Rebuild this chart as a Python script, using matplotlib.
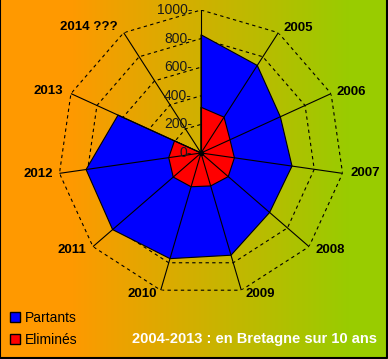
import numpy as np
import matplotlib.pyplot as plt
from matplotlib.patches import Patch

plt.rcParams["font.family"] = ["Liberation Sans", "DejaVu Sans"]

years = ["", "2005", "2006", "2007", "2008", "2009", "2010", "2011", "2012", "2013", "2014 ???"]
partants = [827, 728, 610, 643, 635, 745, 770, 818, 812, 638, 0]
elimines = [320, 298, 223, 236, 252, 240, 246, 257, 228, 204, 0]
rticks = [0, 200, 400, 600, 800, 1000]

# label offsets (pixels) and alignment, one per year
label_dx = [0, 5, 5, 8, 6, 4, -4, -7, -6, -8, -6]
label_dy = [0, 5, 2, 0, -3, -4, -4, -3, -1, 3, 6]
label_ha = ["center", "left", "left", "left", "left", "left", "right", "right", "right", "right", "right"]


def closed(vals):
    return list(vals) + [vals[0]]


def main():
    fig = plt.figure(figsize=(3.88, 3.59), dpi=100)

    # background gradient orange -> green
    bg = fig.add_axes([0, 0, 1, 1])
    x = np.linspace(0, 1, 388)
    t = np.clip((x - 0.18) / (0.72), 0, 1)
    left = np.array([255, 153, 0]) / 255
    right = np.array([153, 204, 0]) / 255
    grad = left[None, :] * (1 - t[:, None]) + right[None, :] * t[:, None]
    bg.imshow(grad[None, :, :], aspect="auto", extent=[0, 1, 0, 1])
    bg.set_xlim(0, 1)
    bg.set_ylim(0, 1)
    bg.axis("off")
    bg.plot([0.001, 0.001, 0.997, 0.997], [1, 0.002, 0.002, 1], color="black", lw=1.5, clip_on=False)

    ax = fig.add_axes([58 / 388, 63 / 359, 286 / 388, 286 / 359], projection="polar")
    ax.patch.set_visible(False)
    ax.set_theta_zero_location("N")
    ax.set_theta_direction(-1)
    ax.set_ylim(0, 1000)
    ax.grid(False)
    ax.spines["polar"].set_visible(False)
    ax.set_xticks([])
    ax.set_yticks([])

    n = len(years)
    theta = np.arange(n) * 2 * np.pi / n
    th = closed(theta)

    for r in rticks[1:]:
        ax.plot(th, [r] * len(th), color="black", lw=0.8, ls=(0, (3, 3)), zorder=1)

    ax.fill(th, closed(partants), facecolor="#0000ff", edgecolor="black", lw=0.8, zorder=2)
    ax.fill(th, closed(elimines), facecolor="#ff0000", edgecolor="black", lw=0.8, zorder=3)

    for a in theta:
        ax.plot([a, a], [0, 1000], color="black", lw=0.8, zorder=4)
    ax.plot([0], [0], "o", color="black", ms=3, zorder=5)

    for v in rticks:
        ax.annotate(f"{v}-", xy=(0, v), xytext=(-9, 0), textcoords="offset pixels",
                    ha="right", va="center", fontsize=10, color="#1a1a1a", zorder=6)

    for a, lab, dx, dy, ha in zip(theta, years, label_dx, label_dy, label_ha):
        ax.annotate(lab, xy=(a, 1000), xytext=(dx, dy), textcoords="offset pixels",
                    ha=ha, va="center", fontsize=9.5, fontweight="bold", color="black",
                    annotation_clip=False)

    handles = [
        Patch(facecolor="#0000ff", edgecolor="black", label="Partants"),
        Patch(facecolor="#ff0000", edgecolor="black", label="Eliminés"),
    ]
    fig.legend(handles=handles, loc="lower left", bbox_to_anchor=(10 / 388, 12 / 359),
               frameon=False, fontsize=10, handlelength=0.7, handleheight=0.7,
               handletextpad=0.4, labelspacing=0.6, borderaxespad=0, borderpad=0)

    fig.text(377 / 388, (359 - 339) / 359, "2004-2013 : en Bretagne sur 10 ans",
             ha="right", va="center", color="white", fontweight="bold", fontsize=10.5)

    fig.savefig("out.png", dpi=100)


if __name__ == "__main__":
    main()
